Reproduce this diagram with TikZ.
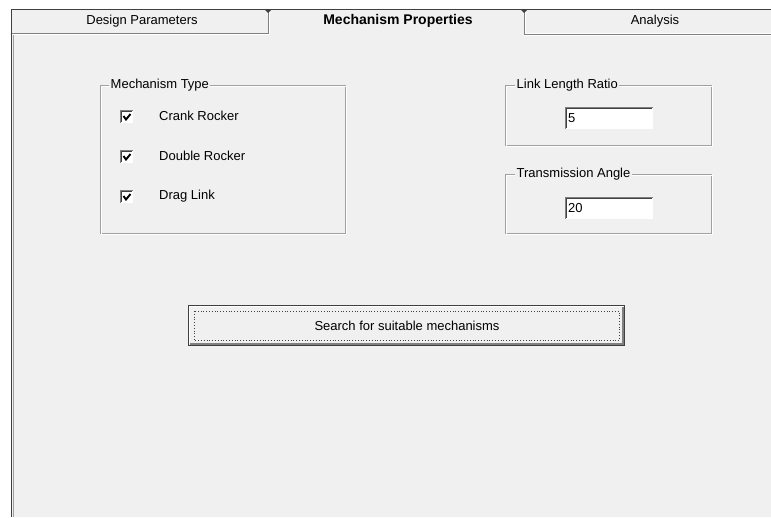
\documentclass[tikz,border=0pt]{standalone}
\usepackage{fontspec}
\setmainfont{Liberation Sans}
\definecolor{panel}{HTML}{F0F0F0}
\definecolor{winshade}{HTML}{A0A0A0}
\definecolor{winmid}{HTML}{808080}
\definecolor{windark}{HTML}{404040}
\tikzset{
	uitext/.style={font=\fontsize{13}{15}\selectfont, inner sep=0pt},
	grouplabel/.style={uitext, anchor=west, fill=panel, inner xsep=1.5pt, inner ysep=1pt},
	etched/.style={draw=winshade, line width=1pt},
	sunken/.style={fill=white},
}
\begin{document}
\begin{tikzpicture}[x=1pt,y=-1pt]
	\useasboundingbox (0,0) rectangle (771,517);
	\fill[white] (0,0) rectangle (771,517);
	\fill[panel] (12,9) rectangle (771,517);
	% frame and tabs
	\draw[windark, line width=1.2pt] (11.5,9) -- (11.5,517);
	\draw[winshade] (12.8,34) -- (12.8,517);
	\draw[windark, line width=1.5pt] (11,9.5) -- (771,9.5);
	\draw[winmid] (12,33.5) -- (268,33.5) -- (268,10);
	\draw[white] (12,34.5) -- (269,34.5);
	\draw[white] (269,11) -- (269,34);
	\draw[winmid] (524,10) -- (524,34) -- (771,34);
	\draw[white] (525,11) -- (525,33) -- (771,33);
	\draw[white] (524,35) -- (771,35);
	\fill[windark] (264,9) -- (272,9) -- (268,13) -- cycle;
	\fill[windark] (520,9) -- (528,9) -- (524,13) -- cycle;
	\node[uitext] (tabdesign) at (142,21) {Design Parameters};
	\node[uitext, font=\fontsize{14}{16}\selectfont\bfseries] (tabmech) at (398,21) {Mechanism Properties};
	\node[uitext] (tabanalysis) at (655,21) {Analysis};
	% mechanism type group
	\draw[etched] (100.5,85.5) rectangle (345.5,233.5);
	\draw[white] (101.5,86.5) rectangle (346.5,234.5);
	\node[grouplabel] (mechtype) at (109,85) {Mechanism Type};
	\foreach \y/\name/\txt in {110/crank/Crank Rocker, 150/double/Double Rocker, 190/drag/Drag Link} {
		\fill[white] (120,\y) rectangle (133,\y+13);
		\draw[winmid] (120.5,\y+13) -- (120.5,\y+0.5) -- (133,\y+0.5);
		\draw[windark] (121.5,\y+12) -- (121.5,\y+1.5) -- (132,\y+1.5);
		\draw[line width=1.9pt] (123.5,\y+6) -- (126,\y+9.5) -- (130.5,\y+4);
		\node[uitext, anchor=west] (\name) at (159,\y+6) {\txt};
	}
	% link length ratio group
	\draw[etched] (505.5,85.5) rectangle (711.5,145.5);
	\draw[white] (506.5,86.5) rectangle (712.5,146.5);
	\node[grouplabel] (ratiolabel) at (515,85) {Link Length Ratio};
	\fill[white] (565,107) rectangle (653,129);
	\draw[winmid] (565.5,129) -- (565.5,107.5) -- (653,107.5);
	\draw[windark] (566.5,128) -- (566.5,108.5) -- (652,108.5);
	\node[uitext, anchor=west] (ratio) at (568,118.5) {5};
	% transmission angle group
	\draw[etched] (505.5,174.5) rectangle (711.5,233.5);
	\draw[white] (506.5,175.5) rectangle (712.5,234.5);
	\node[grouplabel] (anglelabel) at (515,174) {Transmission Angle};
	\fill[white] (565,197) rectangle (653,219);
	\draw[winmid] (565.5,219) -- (565.5,197.5) -- (653,197.5);
	\draw[windark] (566.5,218) -- (566.5,198.5) -- (652,198.5);
	\node[uitext, anchor=west] (angle) at (568,208.5) {20};
	% search button
	\draw[windark] (188.5,305.5) rectangle (624.5,345.5);
	\draw[white] (189.5,344) -- (189.5,306.5) -- (623,306.5);
	\draw[winmid, line width=1.5pt] (190,344.2) -- (623.2,344.2) -- (623.2,307);
	\draw[windark, dotted, line width=0.8pt] (194,311) rectangle (619,340.5);
	\node[uitext] (search) at (407,325.5) {Search for suitable mechanisms};
\end{tikzpicture}
\end{document}
